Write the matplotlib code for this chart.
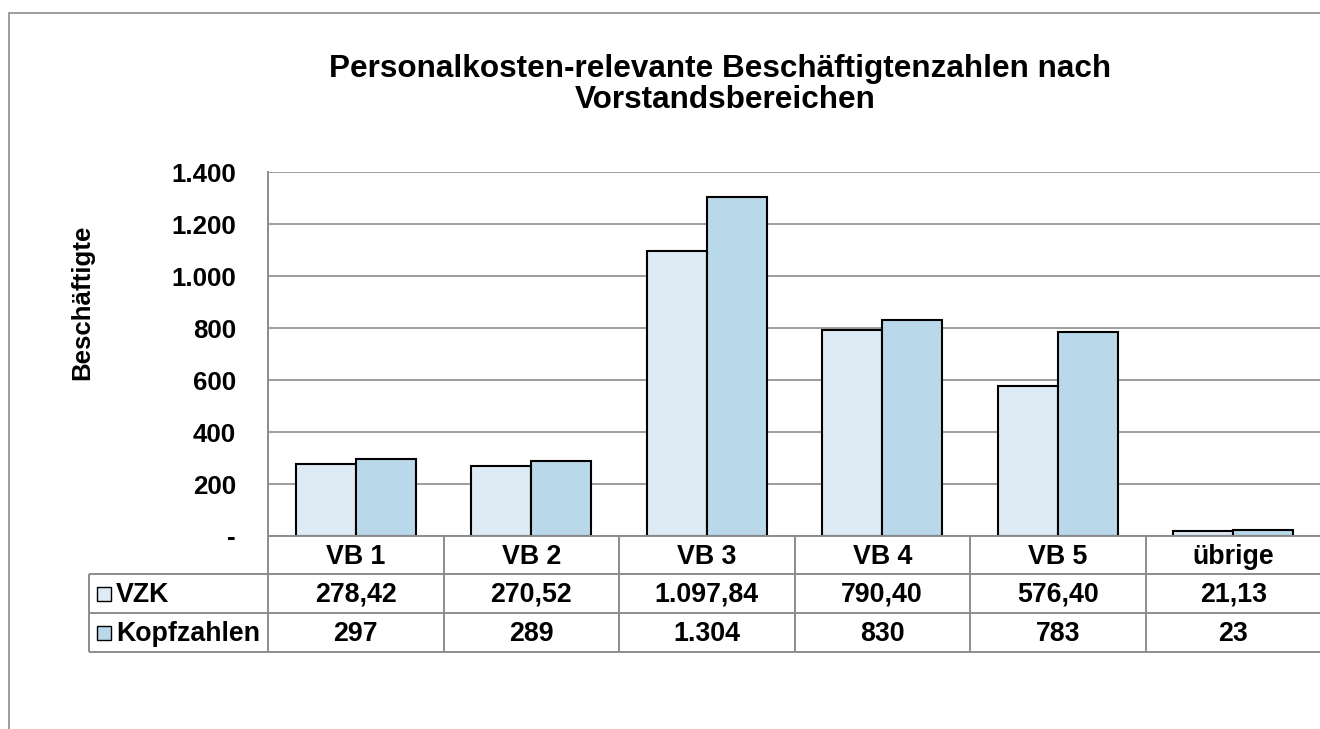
import matplotlib
matplotlib.use('Agg')
import matplotlib.pyplot as plt
from matplotlib.transforms import blended_transform_factory
from matplotlib.patches import Rectangle
import numpy as np

# ---------------- data ----------------
categories = ['VB 1', 'VB 2', 'VB 3', 'VB 4', 'VB 5', 'übrige']
vzk = [278.42, 270.52, 1097.84, 790.40, 576.40, 21.13]
kopfzahlen = [297, 289, 1304, 830, 783, 23]
series_names = ['VZK', 'Kopfzahlen']
series_decimals = [2, 0]
yticks = [0, 200, 400, 600, 800, 1000, 1200, 1400]
ytick_labels = ['-', '200', '400', '600', '800', '1.000', '1.200', '1.400']
title_lines = ['Personalkosten-relevante Beschäftigtenzahlen nach', 'Vorstandsbereichen']
ylabel = 'Beschäftigte'

# ---------------- style ----------------
W, H = 1320, 729
plt.rcParams['font.family'] = ['Liberation Sans', 'DejaVu Sans']
plt.rcParams['font.weight'] = 'bold'
colors = ['#DEEBF5', '#B9D8EA']
grid_c = '#8C8C8C'
fs = 18.6
fs_tab = 19.3


def fx(px):
    return px / W


def fy(py):
    return 1 - py / H


def de(v, dec):
    s = f"{v:,.{dec}f}"
    return s.replace(',', 'X').replace('.', ',').replace('X', '.')


fig = plt.figure(figsize=(W / 100, H / 100), dpi=100)
fig.patch.set_facecolor('white')

# outer chart border (extends beyond right and bottom edges)
fig.add_artist(Rectangle((fx(9), fy(760)), fx(1360) - fx(9), fy(12.5) - fy(760),
                         fill=False, edgecolor=grid_c, lw=1.2,
                         transform=fig.transFigure))

ax = fig.add_axes([fx(268), fy(536), fx(1321) - fx(268), fy(172) - fy(536)])
x = np.arange(len(categories))
bw = 0.342
ax.bar(x - bw / 2, vzk, bw, color=colors[0], edgecolor='black', lw=1.5, zorder=3)
ax.bar(x + bw / 2, kopfzahlen, bw, color=colors[1], edgecolor='black', lw=1.5, zorder=3)

ax.set_xlim(-0.5, len(categories) - 0.5)
ax.set_ylim(0, 1400)
ax.set_yticks(yticks)
ax.set_yticklabels(ytick_labels, fontsize=fs, fontweight='bold')
ax.set_xticks([])
ax.tick_params(axis='y', length=0, pad=23)
ax.yaxis.grid(True, color=grid_c, lw=1.2, zorder=0)
for s in ['top', 'right']:
    ax.spines[s].set_visible(False)
for s in ['left', 'bottom']:
    ax.spines[s].set_color(grid_c)
    ax.spines[s].set_linewidth(1.4)
    ax.spines[s].set_zorder(4)

# title
fig.text(fx(720), fy(76.5), title_lines[0], ha='center', va='baseline',
         fontsize=22.7, fontweight='bold')
fig.text(fx(725), fy(108), title_lines[1], ha='center', va='baseline',
         fontsize=22.7, fontweight='bold')

# y label
fig.text(fx(82), fy(302), ylabel, rotation=90, ha='center', va='center',
         fontsize=fs, fontweight='bold')

# ---------------- data table ----------------
bt = blended_transform_factory(ax.transData, fig.transFigure)
row_y = [536, 574, 613, 652]
lk = dict(color=grid_c, lw=1.4, clip_on=False, solid_capstyle='butt')
# vertical lines at category boundaries
for b in np.arange(-0.5, len(categories) + 0.5, 1.0):
    ax.plot([b, b], [fy(536), fy(652)], transform=bt, **lk)
# horizontal lines
for yy in row_y[1:]:
    fig.add_artist(plt.Line2D([fx(89), fx(1330)], [fy(yy), fy(yy)],
                              transform=fig.transFigure, **lk))
fig.add_artist(plt.Line2D([fx(89), fx(89)], [fy(574), fy(652)],
                          transform=fig.transFigure, **lk))

# header labels
for i, c in enumerate(categories):
    ax.text(i, fy(564), c, transform=bt, ha='center', va='baseline',
            fontsize=fs_tab, fontweight='bold')

series = [vzk, kopfzahlen]
for r, (name, vals, dec) in enumerate(zip(series_names, series, series_decimals)):
    yc = (row_y[r + 1] + row_y[r + 2]) / 2
    # legend key
    fig.add_artist(Rectangle((fx(97), fy(yc + 7)), fx(111) - fx(97), fy(yc - 7) - fy(yc + 7),
                             facecolor=colors[r], edgecolor='black', lw=1.0,
                             transform=fig.transFigure))
    fig.text(fx(116), fy(yc + 8.5), name, ha='left', va='baseline',
             fontsize=fs_tab, fontweight='bold')
    for i, v in enumerate(vals):
        ax.text(i, fy(yc + 8.5), de(v, dec), transform=bt, ha='center',
                va='baseline', fontsize=fs_tab, fontweight='bold')

fig.savefig('out.png', dpi=100, facecolor='white')
